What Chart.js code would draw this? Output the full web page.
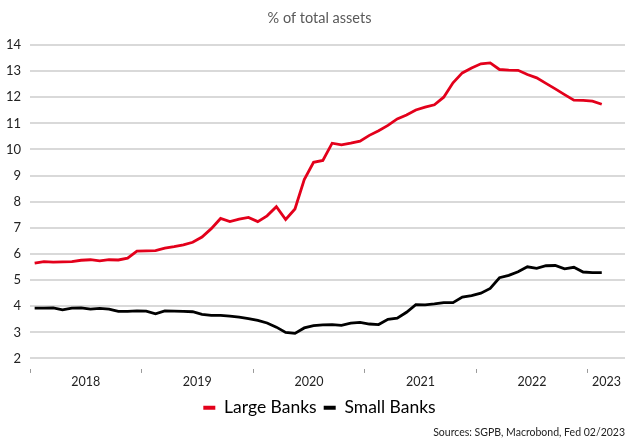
<!DOCTYPE html>
<html>
<head>
<meta charset="utf-8">
<script src="https://cdn.jsdelivr.net/npm/chart.js@4.4.1/dist/chart.umd.min.js"></script>
<style>
html, body { margin: 0; padding: 0; background: #fff; }
#wrap { width: 626px; height: 438px; }
</style>
</head>
<body>
<div id="wrap"><canvas id="chart"></canvas></div>
<script>
// monthly observations, Jan 2018 - Feb 2023
const months = [
    '2018-01', '2018-02', '2018-03', '2018-04', '2018-05', '2018-06', '2018-07', '2018-08', '2018-09', '2018-10', '2018-11', '2018-12',
    '2019-01', '2019-02', '2019-03', '2019-04', '2019-05', '2019-06', '2019-07', '2019-08', '2019-09', '2019-10', '2019-11', '2019-12',
    '2020-01', '2020-02', '2020-03', '2020-04', '2020-05', '2020-06', '2020-07', '2020-08', '2020-09', '2020-10', '2020-11', '2020-12',
    '2021-01', '2021-02', '2021-03', '2021-04', '2021-05', '2021-06', '2021-07', '2021-08', '2021-09', '2021-10', '2021-11', '2021-12',
    '2022-01', '2022-02', '2022-03', '2022-04', '2022-05', '2022-06', '2022-07', '2022-08', '2022-09', '2022-10', '2022-11', '2022-12',
    '2023-01', '2023-02'
];

const largeBanks = [
    5.65, 5.71, 5.69, 5.70, 5.71, 5.76, 5.78, 5.74, 5.78, 5.77, 5.84, 6.11,
    6.12, 6.13, 6.22, 6.28, 6.35, 6.45, 6.65, 6.97, 7.36, 7.24, 7.33, 7.40,
    7.24, 7.46, 7.81, 7.32, 7.72, 8.85, 9.51, 9.58, 10.24, 10.18, 10.24, 10.32,
    10.54, 10.72, 10.92, 11.17, 11.32, 11.51, 11.62, 11.71, 12.00, 12.55, 12.93, 13.12,
    13.28, 13.31, 13.06, 13.04, 13.03, 12.87, 12.74, 12.53, 12.32, 12.10, 11.89, 11.88,
    11.85, 11.73
];

const smallBanks = [
    3.93, 3.93, 3.94, 3.86, 3.93, 3.94, 3.89, 3.92, 3.89, 3.80, 3.80, 3.82,
    3.81, 3.71, 3.82, 3.81, 3.80, 3.79, 3.69, 3.65, 3.65, 3.62, 3.58, 3.53,
    3.46, 3.36, 3.20, 3.00, 2.96, 3.17, 3.26, 3.29, 3.30, 3.27, 3.35, 3.38,
    3.32, 3.30, 3.50, 3.54, 3.77, 4.06, 4.05, 4.09, 4.14, 4.14, 4.35, 4.41,
    4.50, 4.68, 5.09, 5.18, 5.32, 5.51, 5.45, 5.55, 5.56, 5.43, 5.49, 5.31,
    5.29, 5.29
];

const yTicks = [2, 3, 4, 5, 6, 7, 8, 9, 10, 11, 12, 13, 14];
const yearLabels = ['2018', '2019', '2020', '2021', '2022', '2023'];
const yearStarts = [0, 12, 24, 36, 48, 60];      // months since Jan 2018
const yearLabelPos = [6, 18, 30, 42, 54, 62];

function monthIndex(m) {
    const parts = m.split('-');
    return (parseInt(parts[0], 10) - 2018) * 12 + parseInt(parts[1], 10) - 1;
}

function toPoints(values) {
    // plot each month in the middle of its period
    return months.map((m, i) => ({ x: monthIndex(m) + 0.5, y: values[i] }));
}

// title and legend sit a bit right of the canvas centre in the original
const shiftBlocks = {
    id: 'shiftBlocks',
    afterLayout: function(chart) {
        [chart.titleBlock, chart.legend].forEach(function(b) {
            if (b) {
                b.left += 14;
                b.width -= 14;
            }
        });
    }
};

Chart.defaults.font.family = 'Lato, "Noto Sans", sans-serif';
Chart.defaults.color = '#222';

const ctx = document.getElementById('chart');
new Chart(ctx, {
    type: 'line',
    data: {
        datasets: [
            {
                label: 'Large Banks',
                data: toPoints(largeBanks),
                borderColor: '#e3001b',
                backgroundColor: '#e3001b',
                borderWidth: 2.8,
                pointRadius: 0,
                tension: 0
            },
            {
                label: 'Small Banks',
                data: toPoints(smallBanks),
                borderColor: '#000',
                backgroundColor: '#000',
                borderWidth: 2.8,
                pointRadius: 0,
                tension: 0
            }
        ]
    },
    plugins: [shiftBlocks],
    options: {
        responsive: true,
        maintainAspectRatio: false,
        animation: false,
        devicePixelRatio: 1,
        layout: {
            padding: { left: 0, right: 1, top: 0, bottom: 0 }
        },
        plugins: {
            title: {
                display: true,
                text: '% of total assets',
                color: '#595959',
                font: { size: 14.5, weight: 'normal', lineHeight: 1.1 },
                padding: { top: 10, bottom: 19 }
            },
            subtitle: {
                display: true,
                position: 'bottom',
                align: 'end',
                text: 'Sources: SGPB, Macrobond, Fed 02/2023',
                color: '#222',
                font: { size: 10.5, lineHeight: 1.1 },
                padding: 0
            },
            legend: {
                position: 'bottom',
                labels: {
                    boxWidth: 12,
                    boxHeight: 4,
                    padding: 7,
                    color: '#111',
                    font: { size: 17.5 },
                    generateLabels: function(chart) {
                        return chart.data.datasets.map((ds, i) => ({
                            text: ds.label,
                            fillStyle: ds.borderColor,
                            strokeStyle: ds.borderColor,
                            lineWidth: 0,
                            datasetIndex: i
                        }));
                    }
                }
            },
            tooltip: { enabled: false }
        },
        scales: {
            x: {
                type: 'linear',
                min: 0,
                max: 64,
                border: { display: false },
                grid: {
                    drawOnChartArea: false,
                    drawTicks: true,
                    tickLength: 4,
                    tickWidth: 1,
                    tickColor: function(c) {
                        return c.tick && yearStarts.includes(c.tick.value) ? '#9a9a9a' : 'rgba(0,0,0,0)';
                    }
                },
                afterBuildTicks: function(scale) {
                    const vals = yearStarts.concat(yearLabelPos).sort((a, b) => a - b);
                    scale.ticks = vals.map(v => ({ value: v }));
                },
                ticks: {
                    autoSkip: false,
                    maxRotation: 0,
                    padding: 2,
                    color: '#222',
                    font: { size: 12.5 },
                    callback: function(value) {
                        const k = yearLabelPos.indexOf(value);
                        return k >= 0 ? yearLabels[k] : '';
                    }
                }
            },
            y: {
                min: 1.6,
                max: 14,
                border: { display: false },
                grid: {
                    color: '#d9d9d9',
                    lineWidth: 2,
                    drawTicks: false
                },
                afterBuildTicks: function(scale) {
                    scale.ticks = yTicks.map(v => ({ value: v }));
                },
                afterFit: function(scale) {
                    scale.width = 30;
                },
                ticks: {
                    padding: 9,
                    color: '#222',
                    font: { size: 13 }
                }
            }
        }
    }
});
</script>
</body>
</html>
